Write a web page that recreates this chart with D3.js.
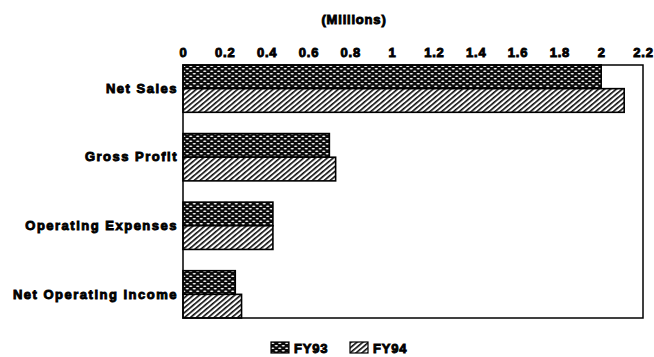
<!DOCTYPE html>
<html>
<head>
<meta charset="utf-8">
<script src="https://cdn.jsdelivr.net/npm/d3@7"></script>
<style>
  html, body { margin: 0; padding: 0; background: #fff; }
  svg { display: block; }
  text { font-family: "Liberation Sans", Arial, sans-serif; font-weight: bold; fill: #000; }
</style>
</head>
<body>
<svg id="chart" width="654" height="357"></svg>
<script>
const categories = ["Net Sales", "Gross Profit", "Operating Expenses", "Net Operating Income"];
const seriesNames = ["FY93", "FY94"];
const fy93 = [2.00, 0.70, 0.43, 0.25];
const fy94 = [2.11, 0.73, 0.43, 0.28];
const tickValues = [0, 0.2, 0.4, 0.6, 0.8, 1, 1.2, 1.4, 1.6, 1.8, 2, 2.2];
const tickLabels = ["0", "0.2", "0.4", "0.6", "0.8", "1", "1.2", "1.4", "1.6", "1.8", "2", "2.2"];
const title = "(Millions)";

const svg = d3.select("#chart");
const plot = { left: 183, right: 643, top: 65, bottom: 318 };
const TS = 0.9; // text stroke for heavy scanned look

// patterns
const defs = svg.append("defs");
const p1 = defs.append("pattern").attr("id", "pat93").attr("patternUnits", "userSpaceOnUse")
  .attr("width", 7).attr("height", 5);
p1.append("rect").attr("width", 7).attr("height", 5).attr("fill", "#0a0a0a");
p1.append("ellipse").attr("cx", 1.75).attr("cy", 1.2).attr("rx", 1.7).attr("ry", 0.8).attr("fill", "#fff");
p1.append("ellipse").attr("cx", 5.25).attr("cy", 3.7).attr("rx", 1.7).attr("ry", 0.8).attr("fill", "#fff");

const p2 = defs.append("pattern").attr("id", "pat94").attr("patternUnits", "userSpaceOnUse")
  .attr("width", 8).attr("height", 3.8).attr("patternTransform", "rotate(-40)");
p2.append("rect").attr("width", 8).attr("height", 3.8).attr("fill", "#fff");
p2.append("rect").attr("y", 0).attr("width", 8).attr("height", 1.6).attr("fill", "#0a0a0a");

const fills = ["url(#pat93)", "url(#pat94)"];

const x = d3.scaleLinear().domain([0, 2.2]).range([plot.left, plot.right]);
const y = d3.scaleBand().domain(categories).range([plot.top, plot.bottom])
  .paddingInner(0.31).paddingOuter(0);
const ys = d3.scaleBand().domain(seriesNames).range([0, y.bandwidth()]).padding(0);

const rows = categories.map((c, i) => ({ cat: c, vals: [fy93[i], fy94[i]] }));

// bars
const g = svg.append("g");
rows.forEach(r => {
  r.vals.forEach((v, j) => {
    g.append("rect")
      .attr("x", x(0))
      .attr("y", y(r.cat) + ys(seriesNames[j]))
      .attr("width", x(v) - x(0))
      .attr("height", ys.bandwidth())
      .attr("fill", fills[j])
      .attr("stroke", "#000")
      .attr("stroke-width", 1.6);
  });
});

// plot frame
svg.append("rect")
  .attr("x", plot.left).attr("y", plot.top)
  .attr("width", plot.right - plot.left).attr("height", plot.bottom - plot.top)
  .attr("fill", "none").attr("stroke", "#000").attr("stroke-width", 1.5);

// top axis
const xAxis = d3.axisTop(x).tickValues(tickValues).tickSize(0).tickPadding(8)
  .tickFormat((d, i) => tickLabels[i]);
const gx = svg.append("g").attr("transform", `translate(0,${plot.top})`).call(xAxis);
gx.select(".domain").remove();
gx.selectAll("text")
  .attr("font-family", "Liberation Sans, Arial, sans-serif")
  .attr("font-weight", "bold").attr("font-size", 13)
  .attr("letter-spacing", "0.8px")
  .attr("stroke", "#000").attr("stroke-width", TS);

// left axis
const yAxis = d3.axisLeft(y).tickSize(0).tickPadding(5);
const gy = svg.append("g").attr("transform", `translate(${plot.left},0)`).call(yAxis);
gy.select(".domain").remove();
gy.selectAll("text")
  .attr("font-family", "Liberation Sans, Arial, sans-serif")
  .attr("font-weight", "bold").attr("font-size", 13)
  .attr("letter-spacing", "1.5px")
  .attr("stroke", "#000").attr("stroke-width", TS);

// title
svg.append("text")
  .attr("x", 354).attr("y", 24)
  .attr("text-anchor", "middle")
  .attr("font-size", 13)
  .attr("letter-spacing", "0.8px")
  .attr("stroke", "#000").attr("stroke-width", TS)
  .text(title);

// legend
const legend = svg.append("g").attr("transform", "translate(271,342)");
const legX = [0, 79];
seriesNames.forEach((s, j) => {
  const lg = legend.append("g").attr("transform", `translate(${legX[j]},0)`);
  lg.append("rect").attr("width", 18).attr("height", 11)
    .attr("fill", fills[j]).attr("stroke", "#000").attr("stroke-width", 1.2);
  lg.append("text").attr("x", 23).attr("y", 11)
    .attr("font-size", 13).attr("letter-spacing", "0.8px")
    .attr("stroke", "#000").attr("stroke-width", TS)
    .text(s);
});
</script>
</body>
</html>
